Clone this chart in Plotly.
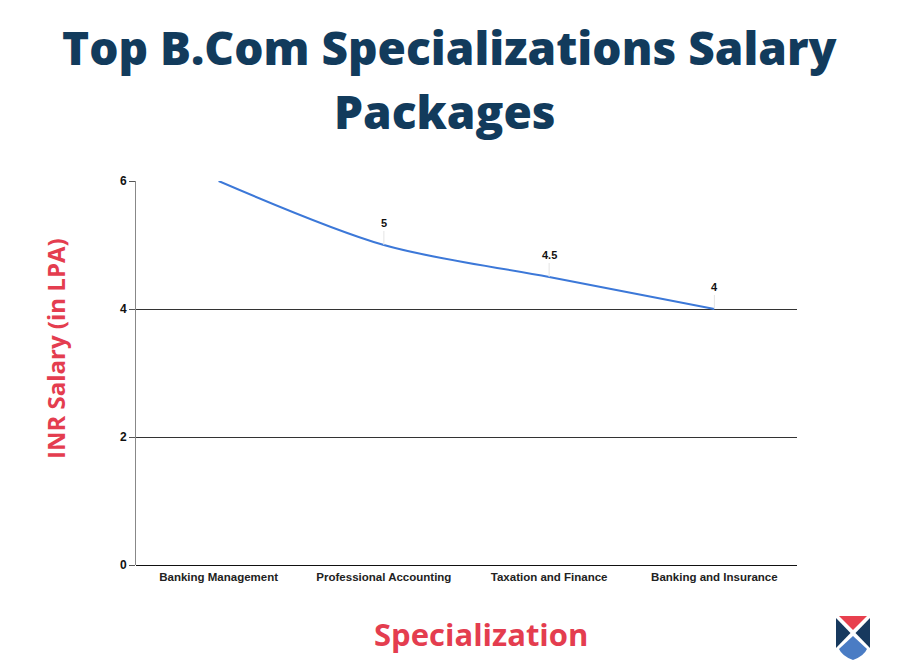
import plotly.graph_objects as go

# ---- data ----
specializations = ["Banking Management", "Professional Accounting",
                   "Taxation and Finance", "Banking and Insurance"]
salary_lpa = [6, 5, 4.5, 4]
y_ticks = [0, 2, 4, 6]
title_lines = ["Top B.Com Specializations Salary", "Packages"]
x_title = "Specialization"
y_title = "INR Salary (in LPA)"

OFF = 8  # page body margin
W, H = 900 - OFF, 671 - OFF
L, R, T, B = 136 - OFF, 797 - OFF, 181 - OFF, 565 - OFF  # plot area in pixels


def px(x):
    return (x - OFF - L) / (R - L)


def py(y):
    return (B - (y - OFF)) / (B - T)


fig = go.Figure()
fig.add_trace(go.Scatter(
    x=specializations, y=salary_lpa, mode="lines",
    line=dict(color="#3c78d8", width=2, shape="spline", smoothing=0.9),
    hoverinfo="skip", showlegend=False,
))

y_max = max(y_ticks)
annotations = []
for cat, v in zip(specializations, salary_lpa):
    if v < y_max:
        annotations.append(dict(
            x=cat, y=v, xref="x", yref="y", text=f"<b>{v:g}</b>",
            showarrow=True, arrowhead=0, arrowwidth=1, arrowcolor="#e4e4e4",
            ax=0, ay=-14, standoff=0, yanchor="bottom",
            font=dict(family="Liberation Sans, Arial", size=11, color="#111"),
        ))

title_font = dict(family="Open Sans", size=46, color="#123b5c", weight=800)
annotations.append(dict(text=title_lines[0], x=px(450), y=py(47),
                        xref="paper", yref="paper", showarrow=False,
                        xanchor="center", yanchor="middle", font=title_font))
annotations.append(dict(text=title_lines[1], x=px(445), y=py(111),
                        xref="paper", yref="paper", showarrow=False,
                        xanchor="center", yanchor="middle", font=title_font))
annotations.append(dict(text=x_title, x=px(481), y=py(634),
                        xref="paper", yref="paper", showarrow=False,
                        xanchor="center", yanchor="middle",
                        font=dict(family="Open Sans", size=31, color="#e43d4f", weight=700)))
annotations.append(dict(text=y_title, x=px(55), y=py(349),
                        xref="paper", yref="paper", showarrow=False, textangle=-90,
                        xanchor="center", yanchor="middle",
                        font=dict(family="Open Sans", size=24, color="#e43d4f", weight=700)))


# logo shield
def path(points, close=True):
    s = "M " + " L ".join(f"{px(a):.5f},{py(b):.5f}" for a, b in points)
    return s + (" Z" if close else "")


shapes = []
shapes.append(dict(type="path", xref="paper", yref="paper", line=dict(width=0),
                   fillcolor="#e8404e",
                   path=path([(839, 616), (867, 616), (853, 630)])))
shapes.append(dict(type="path", xref="paper", yref="paper", line=dict(width=0),
                   fillcolor="#17395e",
                   path=path([(836, 618), (850.5, 633), (836, 648)])))
shapes.append(dict(type="path", xref="paper", yref="paper", line=dict(width=0),
                   fillcolor="#17395e",
                   path=path([(870, 618), (855.5, 633), (870, 648)])))
blue = (f"M {px(853):.5f},{py(636):.5f} L {px(867):.5f},{py(649):.5f} "
        f"Q {px(864):.5f},{py(656):.5f} {px(853):.5f},{py(660):.5f} "
        f"Q {px(842):.5f},{py(656):.5f} {px(839):.5f},{py(649):.5f} Z")
shapes.append(dict(type="path", xref="paper", yref="paper", line=dict(width=0),
                   fillcolor="#4a7cc4", path=blue))

fig.update_layout(
    width=W, height=H,
    margin=dict(l=L, r=W - R, t=T, b=H - B),
    paper_bgcolor="white", plot_bgcolor="white",
    annotations=annotations, shapes=shapes,
    xaxis=dict(type="category", range=[-0.5, 3.5], showgrid=False,
               showline=False, zeroline=False, ticks="", ticklabelstandoff=3,
               tickfont=dict(family="Liberation Sans, Arial", size=11.5, color="#222", weight=700),
               fixedrange=True),
    yaxis=dict(range=[0, 6], tickvals=y_ticks, showgrid=True, gridcolor="#333",
               gridwidth=1, zeroline=True, zerolinecolor="#111", zerolinewidth=1,
               showline=True, linecolor="#888", linewidth=1,
               ticks="outside", ticklen=6, tickcolor="#555",
               tickfont=dict(family="Liberation Sans, Arial", size=12, color="#111", weight=700),
               fixedrange=True),
)

fig.write_html("out.html")
